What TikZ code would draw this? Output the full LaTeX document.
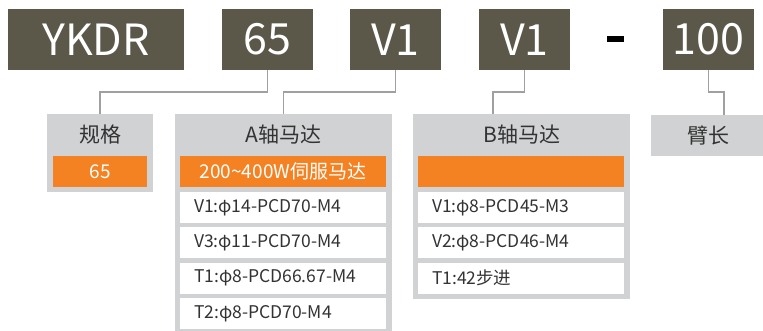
\documentclass[tikz,border=0pt]{standalone}
\usepackage{fontspec}
\setmainfont{Noto Sans CJK SC}
\usetikzlibrary{calc,positioning}
\usepackage{xcolor}
\definecolor{code_dark}{RGB}{91,88,74}
\definecolor{panel_gray}{RGB}{209,210,212}
\definecolor{code_orange}{RGB}{244,130,34}
\definecolor{line_gray}{RGB}{160,160,160}
\definecolor{text_dark}{RGB}{51,51,51}
\tikzset{
  codebox/.style   = {fill=code_dark, text=white, minimum height=61pt, inner sep=0pt,
                      font=\fontsize{43}{43}\selectfont},
  panel/.style     = {fill=panel_gray, anchor=north west, inner sep=0pt},
  titletext/.style = {text=text_dark, font=\fontsize{21}{21}\selectfont},
  orangerow/.style = {fill=code_orange, text=white, minimum height=31pt, inner sep=0pt,
                      font=\fontsize{19}{19}\selectfont},
  whiterow/.style  = {fill=white, text=text_dark, minimum height=31pt, inner ysep=0pt,
                      inner xsep=14pt, text width=178pt, align=left,
                      font=\fontsize{17.5}{17.5}\selectfont},
  conn/.style      = {line_gray, line width=1.5pt}
}
\begin{document}
\begin{tikzpicture}[x=1pt, y=-1pt]
    \useasboundingbox (0,0) rectangle (763,331);
    \def\rowpitch{35.3}  % spacing of the white rows

    % ----- Code boxes -----
    \node[codebox, minimum width=176pt] (ykdr) at (96,39.5)    {YKDR};
    \node[codebox, minimum width=91pt]  (size) at (267.5,39.5) {65};
    \node[codebox, minimum width=91pt]  (va)   at (395.5,39.5) {V1};
    \node[codebox, minimum width=91pt]  (vb)   at (524.5,39.5) {V1};
    \node[fill=black, minimum width=17pt, minimum height=6pt, inner sep=0pt] (dash) at (615.5,39) {};
    \node[codebox, minimum width=91pt]  (arm)  at (708.5,39.5) {100};

    % ----- Panels -----
    \node[panel, minimum width=106pt, minimum height=78pt]  (guige)  at (47,114)  {};
    \node[panel, minimum width=217pt, minimum height=225pt] (amotor) at (175,114) {};
    \node[panel, minimum width=217pt, minimum height=185pt] (bmotor) at (413,114) {};
    \node[panel, minimum width=114pt, minimum height=41pt]  (armlen) at (651,115) {};

    % titles
    \node[titletext] at ([yshift=-21pt]guige.north)  {规格};
    \node[titletext] at ([yshift=-21pt]amotor.north) {A轴马达};
    \node[titletext] at ([yshift=-21pt]bmotor.north) {B轴马达};
    \node[titletext] at (armlen.center)              {臂长};

    % orange rows
    \node[orangerow, minimum width=94pt]  (guigeval) at (100,171.5)   {65};
    \node[orangerow, minimum width=206pt] (aval)     at (283,171.5)   {200\textasciitilde400W伺服马达};
    \node[orangerow, minimum width=206pt] (bval)     at (521,171.5)   {};

    % ----- A motor options -----
    \foreach \txt [count=\i] in {V1:φ14-PCD70-M4, V3:φ11-PCD70-M4, T1:φ8-PCD66.67-M4, T2:φ8-PCD70-M4}{
      \node[whiterow] (arow\i) at (283,{207.5+\rowpitch*(\i-1)}) {\txt};
    }

    % ----- B motor options -----
    \foreach \txt [count=\i] in {V1:φ8-PCD45-M3, V2:φ8-PCD46-M4, T1:42步进}{
      \node[whiterow] (brow\i) at (521,{207.5+\rowpitch*(\i-1)}) {\txt};
    }

    % ----- Connectors -----
    \draw[conn] (size.south) -- ++(0,22) -| (guige.north);
    \draw[conn] (va.south)   -- ++(0,22) -| (amotor.north);
    \draw[conn] (vb.south)   -- ++(0,22) -| ([xshift=-28.5pt]bmotor.north);
    \draw[conn] (arm.south)  -- ++(0,22) -| ([xshift=16pt]armlen.north);
\end{tikzpicture}
\end{document}
